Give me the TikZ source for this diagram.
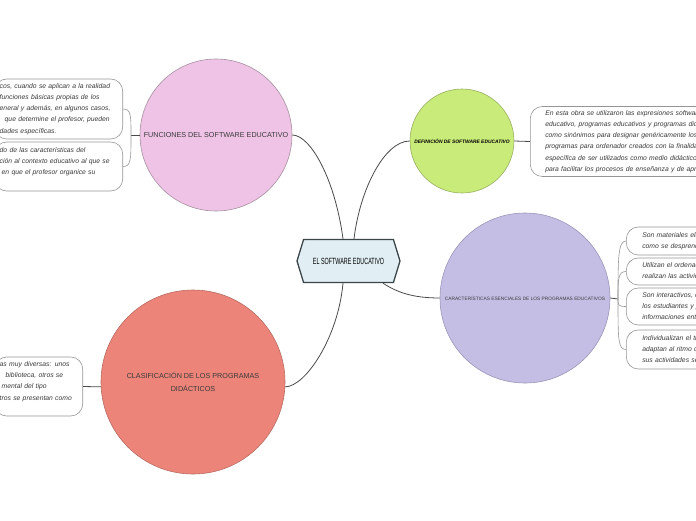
\documentclass[tikz,border=0pt]{standalone}
\usepackage{fontspec}
\setmainfont{Liberation Sans}
\newfontfamily\estrecha{Liberation Sans}[FakeStretch=0.6]
\usetikzlibrary{shapes.symbols}

\definecolor{rosa}{HTML}{EEC3E6}
\definecolor{rosaborde}{HTML}{A6909F}
\definecolor{verde}{HTML}{C9EB79}
\definecolor{verdeborde}{HTML}{98AE62}
\definecolor{lavanda}{HTML}{C5BEE4}
\definecolor{lavandaborde}{HTML}{9C95B8}
\definecolor{salmon}{HTML}{EC8479}
\definecolor{salmonborde}{HTML}{B86C63}
\definecolor{celeste}{HTML}{E1EEF4}
\definecolor{pizarra}{HTML}{3B464B}
\definecolor{tinta}{HTML}{3A3A3A}
\definecolor{linea}{HTML}{4A4A4A}
\definecolor{gris}{HTML}{959595}

\begin{document}
\begin{tikzpicture}[x=1pt, y=-1pt,
	raizbox/.style={signal, signal to=west and east, signal pointer angle=146,
		minimum width=103pt, minimum height=43pt, inner sep=0pt,
		fill=celeste, draw=pizarra, line width=1.3pt,
		font=\estrecha\fontsize{9}{10}\selectfont},
	tema/.style={circle, inner sep=0pt, line width=0.6pt, align=center, text=tinta},
	nota/.style={draw=gris, fill=white, line width=0.6pt, rounded corners=12pt,
		align=left, text=tinta, font=\itshape\fontsize{6.8}{11.2}\selectfont},
	rama/.style={draw=linea, line width=0.8pt},
	llave/.style={draw=gris, line width=0.6pt}]
		% Lienzo
		\useasboundingbox (0,0) rectangle (696,520);
		\clip (0,0) rectangle (696,520);
		
		% Idea central
		\node[raizbox] (raiz) at (348.5,261) {EL SOFTWARE EDUCATIVO};
		
		% Temas principales
		\node[tema, fill=rosa, draw=rosaborde, minimum size=152pt,
			font=\fontsize{7.2}{9}\selectfont] (funciones) at (216,135)
			{FUNCIONES DEL SOFTWARE EDUCATIVO};
		\node[tema, fill=verde, draw=verdeborde, minimum size=104pt, text=black,
			font=\bfseries\itshape\fontsize{4.9}{6}\selectfont] (definicion) at (462,141)
			{DEFINICIÓN DE SOFTWARE EDUCATIVO};
		\node[tema, fill=lavanda, draw=lavandaborde, minimum size=170pt,
			font=\fontsize{4.8}{6}\selectfont] (caracteristicas) at (525,298)
			{CARACTERÍSTICAS ESENCIALES DE LOS PROGRAMAS EDUCATIVOS};
		\node[tema, fill=salmon, draw=salmonborde, minimum size=184pt,
			font=\fontsize{7.2}{13}\selectfont] (clasificacion) at (193,382)
			{CLASIFICACIÓN DE LOS PROGRAMAS\\DIDÁCTICOS};
		
		% Ramas desde el centro
		\draw[rama] ([xshift=-5.5pt]raiz.north) .. controls +(-8,-60) and +(18,0) .. (funciones.east);
		\draw[rama] ([xshift=5.5pt]raiz.north) .. controls +(6,-50) and +(-25,0) .. (definicion.west);
		\draw[rama] ([xshift=34.5pt]raiz.south) .. controls +(15,10) and +(-25,0) .. (caracteristicas.west);
		\draw[rama] ([xshift=-5.5pt]raiz.south) .. controls +(-5,55) and +(20,0) .. (clasificacion.-3);
		
		% Notas de funciones (cortadas por el borde izquierdo)
		\node[nota, inner xsep=5pt, text width=118pt, minimum height=60pt, anchor=east] (f1) at (123,109)
			{cos, cuando se aplican a la realidad\\
			funciones básicas propias de los\\
			eneral y además, en algunos casos,\\
			\hspace*{5pt}que determine el profesor, pueden\\
			dades específicas.};
		\node[nota, inner xsep=5pt, text width=118pt, minimum height=49pt, anchor=east] (f2) at (123,166.5)
			{do de las características del\\
			ción al contexto educativo al que se\\
			\hspace*{2pt}en que el profesor organice su\\
			\mbox{}};
		\coordinate (nudoF) at (131,135);
		\draw[rama] (funciones.west) -- (nudoF);
		\draw[llave] (nudoF) .. controls +(0,-20) and +(8,0) .. (f1.east);
		\draw[llave] (nudoF) .. controls +(0,25) and +(8,0) .. (f2.east);
		
		% Nota de definicion (cortada por el borde derecho)
		\node[nota, inner xsep=15pt, text width=200pt, minimum height=70pt, anchor=west] (d1) at (530,141.5)
			{En esta obra se utilizaron las expresiones software\\
			educativo, programas educativos y programas didácticos\\
			como sinónimos para designar genéricamente los\\
			programas para ordenador creados con la finalidad\\
			específica de ser utilizados como medio didáctico, es decir,\\
			para facilitar los procesos de enseñanza y de aprendizaje.};
		\draw[rama] (definicion.east) -- (d1.west);
		
		% Notas de caracteristicas
		\node[nota, inner xsep=16pt, text width=200pt, minimum height=28pt, anchor=west] (c1) at (626,241)
			{Son materiales elaborados con una finalidad didáctica,\\
			como se desprende de la definición.};
		\node[nota, inner xsep=16pt, text width=200pt, minimum height=27pt, anchor=west] (c2) at (626,271.5)
			{Utilizan el ordenador como soporte en el que los alumnos\\
			realizan las actividades que ellos proponen.};
		\node[nota, inner xsep=16pt, text width=200pt, minimum height=37pt, anchor=west] (c3) at (626,306.5)
			{Son interactivos, contestan inmediatamente las acciones de\\
			los estudiantes y permiten un diálogo y un intercambio de\\
			informaciones entre el ordenador y los estudiantes.};
		\node[nota, inner xsep=16pt, text width=200pt, minimum height=39pt, anchor=west] (c4) at (626,349.5)
			{Individualizan el trabajo de los estudiantes, ya que se\\
			adaptan al ritmo de trabajo de cada uno y pueden adaptar\\
			sus actividades según las actuaciones de los alumnos.};
		\coordinate (nudoC) at (618,299);
		\draw[rama] (caracteristicas.east) -- (nudoC);
		\draw[llave] (nudoC) .. controls +(0,-40) and +(-8,0) .. (c1.west);
		\draw[llave] (nudoC) .. controls +(0,-20) and +(-8,0) .. (c2.west);
		\draw[llave] (nudoC) .. controls +(0,6) and +(-8,0) .. (c3.west);
		\draw[llave] (nudoC) .. controls +(0,40) and +(-8,0) .. (c4.west);
		
		% Nota de clasificacion (cortada por el borde izquierdo)
		\node[nota, inner xsep=5pt, text width=78pt, minimum height=59pt, anchor=east] (s1) at (83,386.5)
			{as muy diversas: unos\\
			\hspace*{6pt}biblioteca, otros se\\
			\hspace*{2pt}mental del tipo\\
			tros se presentan como\\
			\mbox{}};
		\draw[rama] (clasificacion.183) -- (s1.east);
	\end{tikzpicture}
\end{document}
